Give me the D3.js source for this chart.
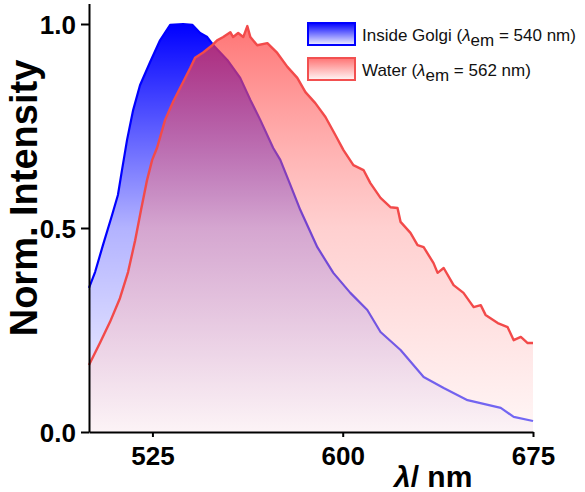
<!DOCTYPE html>
<html>
<head>
<meta charset="utf-8">
<script src="https://cdn.jsdelivr.net/npm/d3@7"></script>
<style>
  body { margin: 0; background: #fff; }
  text { font-family: "Liberation Sans", Arial, sans-serif; }
</style>
</head>
<body>
<svg id="chart" width="585" height="492"></svg>
<script>
// emission spectra
var golgiWl = [500, 502.4, 505.5, 509.1, 511.4, 513, 515, 517.4, 520.1, 524.1, 528, 532, 537.1, 540.7, 543.8, 546.6, 549, 554.5, 559.6, 563.6, 567.5, 572.6, 575.4, 579.4, 583.3, 590, 596.3, 603, 609.7, 614.9, 622.8, 631.9, 639.8, 649.2, 662.3, 667.4, 675];
var golgiI = [0.353, 0.392, 0.458, 0.532, 0.581, 0.642, 0.716, 0.789, 0.85, 0.907, 0.96, 0.998, 1.0, 0.998, 0.978, 0.968, 0.948, 0.912, 0.868, 0.814, 0.765, 0.696, 0.667, 0.605, 0.544, 0.453, 0.39, 0.341, 0.299, 0.245, 0.201, 0.135, 0.108, 0.078, 0.059, 0.037, 0.027];

var waterWl = [500, 504.3, 508.3, 512.2, 515.4, 518.2, 520.5, 522.9, 524.9, 526.8, 530, 533.2, 537.1, 539.9, 541.8, 545, 548.6, 550.5, 552.9, 555.7, 556.8, 558.8, 560.8, 562.4, 563.6, 566.3, 570.3, 574.2, 578.2, 582.1, 585.3, 589.2, 593.2, 597.1, 600.3, 604.2, 608.2, 610.9, 614.9, 618.8, 621.6, 622.8, 626.7, 629.5, 631.9, 635.8, 637.4, 639.8, 643.7, 647.6, 651.6, 654.4, 656.3, 661.1, 665, 667.4, 670.2, 672.9, 675];
var waterI = [0.164, 0.218, 0.27, 0.328, 0.392, 0.47, 0.544, 0.618, 0.667, 0.696, 0.765, 0.81, 0.858, 0.892, 0.917, 0.93, 0.948, 0.96, 0.968, 0.98, 0.968, 0.978, 0.968, 0.995, 0.968, 0.948, 0.953, 0.929, 0.895, 0.868, 0.833, 0.806, 0.772, 0.728, 0.691, 0.654, 0.642, 0.61, 0.574, 0.551, 0.549, 0.515, 0.488, 0.458, 0.453, 0.414, 0.39, 0.402, 0.36, 0.341, 0.306, 0.311, 0.287, 0.267, 0.257, 0.225, 0.233, 0.218, 0.218];

var xTicks = [525, 600, 675];
var yTicks = [0, 0.5, 1.0];
var legendLabels = [["Inside Golgi (", "em", " = 540 nm)"], ["Water (", "em", " = 562 nm)"]];

var svg = d3.select("#chart");

var x = d3.scaleLinear().domain([500, 675]).range([89, 533]);
var y = d3.scaleLinear().domain([0, 1.05]).range([432, 3.6]);

var defs = svg.append("defs");

function vGrad(id, stops, y1, y2) {
    var g = defs.append("linearGradient").attr("id", id)
        .attr("gradientUnits", "userSpaceOnUse")
        .attr("x1", 0).attr("x2", 0).attr("y1", y1).attr("y2", y2);
    stops.forEach(function (s) {
        g.append("stop").attr("offset", s[0]).attr("stop-color", s[1]).attr("stop-opacity", s[2]);
    });
}

vGrad("blueFill", [[0, "#0000ff", 1], [0.5, "#0000ff", 0.3], [1, "#0000ff", 0.02]], y(1), y(0));
vGrad("redFill", [[0, "#ff3232", 0.68], [0.5, "#ff9696", 0.45], [1, "#ffebeb", 0.45]], y(1), y(0));
vGrad("blueKey", [[0, "#0000ff", 1], [1, "#0000ff", 0.05]], 23, 45);
vGrad("redKey", [[0, "#ff5050", 0.8], [1, "#ff5050", 0.05]], 58, 80);

var golgi = golgiWl.map(function (d, i) { return [d, golgiI[i]]; });
var water = waterWl.map(function (d, i) { return [d, waterI[i]]; });

var area = d3.area()
    .x(function (d) { return x(d[0]); })
    .y0(y(0))
    .y1(function (d) { return y(d[1]); });
var line = d3.line()
    .x(function (d) { return x(d[0]); })
    .y(function (d) { return y(d[1]); });

svg.append("path").attr("d", area(golgi)).attr("fill", "url(#blueFill)");
svg.append("path").attr("d", line(golgi)).attr("fill", "none")
    .attr("stroke", "#0000ff").attr("stroke-width", 2.2).attr("stroke-linejoin", "round");

svg.append("path").attr("d", area(water)).attr("fill", "url(#redFill)");
svg.append("path").attr("d", line(water)).attr("fill", "none")
    .attr("stroke", "#f24a4a").attr("stroke-width", 2.4).attr("stroke-linejoin", "round");

// axes
var xAxis = svg.append("g").attr("transform", "translate(0," + y(0) + ")")
    .call(d3.axisBottom(x).tickValues(xTicks).tickSize(5).tickSizeOuter(0).tickFormat(d3.format("d")));
var yAxis = svg.append("g").attr("transform", "translate(" + x(500) + ",0)")
    .call(d3.axisLeft(y).tickValues(yTicks).tickSize(8).tickSizeOuter(0).tickFormat(d3.format(".1f")));

[xAxis, yAxis].forEach(function (a) {
    a.select(".domain").attr("stroke", "#000").attr("stroke-width", 2);
    a.selectAll(".tick line").attr("stroke", "#000").attr("stroke-width", 2);
    a.selectAll(".tick text").attr("fill", "#000")
        .style("font-family", "'Liberation Sans', Arial, sans-serif")
        .style("font-weight", "bold").style("font-size", "26px");
});
xAxis.selectAll(".tick text").attr("y", 33).attr("dy", 0);
yAxis.selectAll(".tick text").attr("x", -13).attr("dy", "0.36em");

// axis titles
svg.append("text")
    .attr("transform", "translate(37,198) rotate(-90)")
    .attr("text-anchor", "middle")
    .style("font-weight", "bold").style("font-size", "38px")
    .text("Norm. Intensity");

var xt = svg.append("text").attr("x", 394).attr("y", 487)
    .style("font-weight", "bold").style("font-size", "30px");
xt.append("tspan").style("font-style", "italic").text("λ");
xt.append("tspan").text("/ nm");

// legend
var keys = [
    { fill: "url(#blueKey)", stroke: "#0000ff", top: 23 },
    { fill: "url(#redKey)", stroke: "#f25050", top: 58 }
];
keys.forEach(function (k, i) {
    svg.append("rect").attr("x", 308).attr("y", k.top).attr("width", 47).attr("height", 22)
        .attr("fill", k.fill).attr("stroke", k.stroke).attr("stroke-width", 2);
    var t = svg.append("text").attr("x", 362).attr("y", k.top + 18)
        .style("font-size", "17px").attr("fill", "#111");
    t.append("tspan").text(legendLabels[i][0]);
    t.append("tspan").style("font-style", "italic").text("λ");
    t.append("tspan").attr("dy", 5).text(legendLabels[i][1]);
    t.append("tspan").attr("dy", -5).text(legendLabels[i][2]);
});
</script>
</body>
</html>
